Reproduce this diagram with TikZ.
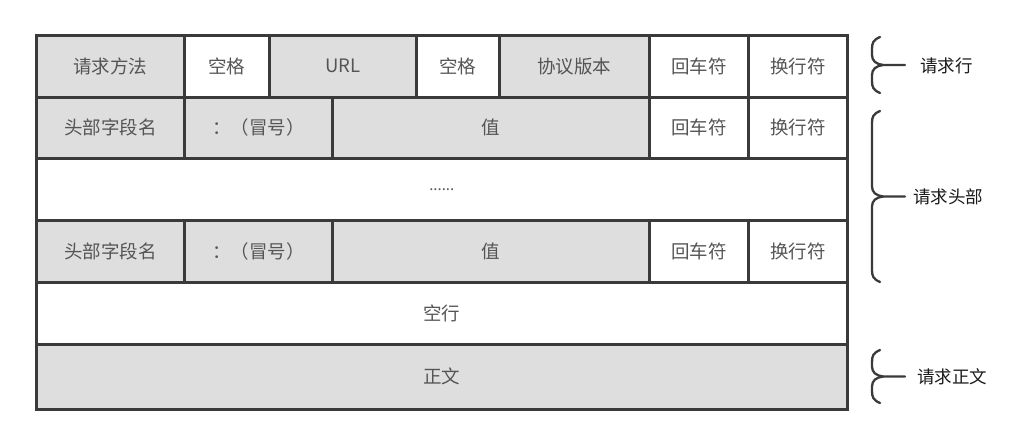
\documentclass[tikz,border=0pt]{standalone}
\usepackage{fontspec}
\setmainfont{Noto Sans CJK SC}
\definecolor{cellgray}{HTML}{DEDEDE}
\definecolor{bordercol}{HTML}{3A3A3A}
\definecolor{textcol}{HTML}{555555}
\definecolor{labelcol}{HTML}{1A1A1A}
\tikzset{
  cell/.style={draw=bordercol, line width=2.6pt, text=textcol, inner sep=0pt,
    font=\fontsize{18.5}{20}\selectfont, anchor=north west},
  graycell/.style={cell, fill=cellgray},
  whitecell/.style={cell, fill=white},
  bracestyle/.style={draw=bordercol, line width=2.3pt, line cap=round, line join=round},
  label/.style={text=labelcol, font=\fontsize{17.5}{19}\selectfont, anchor=west, inner sep=0pt}
}
\newcommand\mycell[7]{%
  \node[#6, minimum width={#4-#2}, minimum height={#5-#3}] (#1) at (#2,#3) {#7};}
\newcommand\mybrace[4]{% x-stem, top, bottom, tip name
  \pgfmathsetmacro\mid{(#2+#3)/2}
  \coordinate (#4) at (905,\mid);
  \draw[bracestyle] (880,#2) .. controls (873,#2+3) and (872,#2+6) .. (872,#2+12)
    -- (872,\mid-10) .. controls (872,\mid-4) and (876,\mid-1) .. (883,\mid)
    -- (#4);
  \draw[bracestyle] (880,#3) .. controls (873,#3-3) and (872,#3-6) .. (872,#3-12)
    -- (872,\mid+10) .. controls (872,\mid+4) and (876,\mid+1) .. (883,\mid);
}
\begin{document}
\begin{tikzpicture}[x=1pt,y=-1pt]
\useasboundingbox (0,0) rectangle (1035,422);
% row 1
\mycell{a1}{35}{34}{183}{96}{graycell}{请求方法}
\mycell{a2}{183}{34}{268}{96}{whitecell}{空格}
\mycell{a3}{268}{34}{415}{96}{graycell}{URL}
\mycell{a4}{415}{34}{498}{96}{whitecell}{空格}
\mycell{a5}{498}{34}{648}{96}{graycell}{协议版本}
\mycell{a6}{648}{34}{747}{96}{whitecell}{回车符}
\mycell{a7}{747}{34}{846}{96}{whitecell}{换行符}
% row 2
\mycell{b1}{35}{96}{183}{157}{graycell}{头部字段名}
\mycell{b2}{183}{96}{331}{157}{graycell}{：（冒号）}
\mycell{b3}{331}{96}{648}{157}{graycell}{值}
\mycell{b4}{648}{96}{747}{157}{whitecell}{回车符}
\mycell{b5}{747}{96}{846}{157}{whitecell}{换行符}
% row 3
\mycell{c1}{35}{157}{846}{219}{whitecell}{\fontsize{15}{15}\selectfont ......}
% row 4
\mycell{d1}{35}{219}{183}{281}{graycell}{头部字段名}
\mycell{d2}{183}{219}{331}{281}{graycell}{：（冒号）}
\mycell{d3}{331}{219}{648}{281}{graycell}{值}
\mycell{d4}{648}{219}{747}{281}{whitecell}{回车符}
\mycell{d5}{747}{219}{846}{281}{whitecell}{换行符}
% row 5
\mycell{e1}{35}{281}{846}{343}{whitecell}{空行}
% row 6
\mycell{f1}{35}{343}{846}{408}{graycell}{正文}
% braces
\mybrace{872}{37}{93}{t1}
\mybrace{872}{111}{282}{t2}
\mybrace{872}{350}{403}{t3}
\node[label] (l1) at (920,66) {请求行};
\node[label] (l2) at (913,197) {请求头部};
\node[label] (l3) at (917,377) {请求正文};
\end{tikzpicture}
\end{document}
